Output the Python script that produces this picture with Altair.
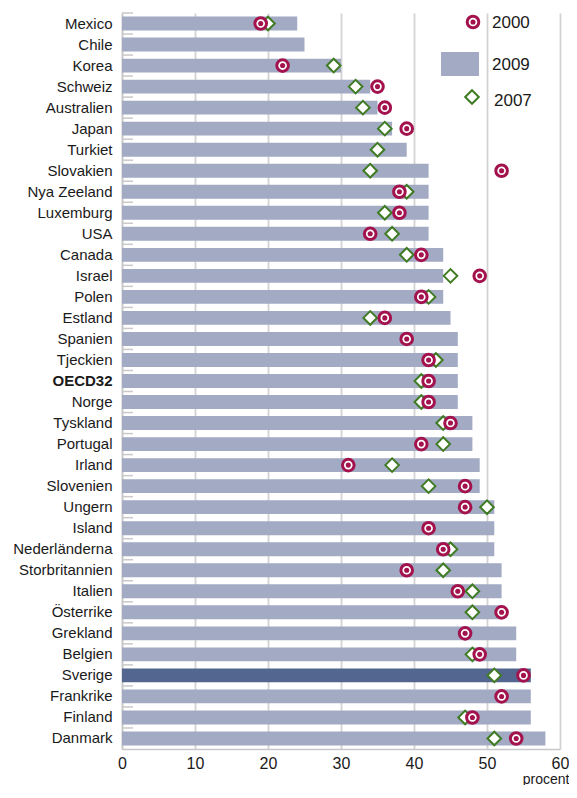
import altair as alt
import pandas as pd

countries = ["Mexico", "Chile", "Korea", "Schweiz", "Australien", "Japan", "Turkiet",
             "Slovakien", "Nya Zeeland", "Luxemburg", "USA", "Canada", "Israel", "Polen",
             "Estland", "Spanien", "Tjeckien", "OECD32", "Norge", "Tyskland", "Portugal",
             "Irland", "Slovenien", "Ungern", "Island", "Nederländerna", "Storbritannien",
             "Italien", "Österrike", "Grekland", "Belgien", "Sverige", "Frankrike",
             "Finland", "Danmark"]
v2009 = [24, 25, 30, 34, 35, 37, 39, 42, 42, 42, 42, 44, 44, 44, 45, 46, 46, 46, 46, 48,
         48, 49, 49, 51, 51, 51, 52, 52, 52, 54, 54, 56, 56, 56, 58]
v2000 = [19, None, 22, 35, 36, 39, None, 52, 38, 38, 34, 41, 49, 41, 36, 39, 42, 42, 42,
         45, 41, 31, 47, 47, 42, 44, 39, 46, 52, 47, 49, 55, 52, 48, 54]
v2007 = [20, None, 29, 32, 33, 36, 35, 34, 39, 36, 37, 39, 45, 42, 34, None, 43, 41, 41,
         44, 44, 37, 42, 50, None, 45, 44, 48, 48, None, 48, 51, None, 47, 51]
highlight = ["Sverige"]
x_ticks = [0, 10, 20, 30, 40, 50, 60]
legend_labels = ["2000", "2009", "2007"]

df = pd.DataFrame({"land": countries, "v2009": v2009, "v2000": v2000, "v2007": v2007})
df["hl"] = df["land"].isin(highlight)

W, H = 438, 736
N = len(countries)
STEP = H / N
PIN = 0.34

BAR = "#a2aac4"
BAR_HL = "#536690"
RED = "#a3124d"
GREEN = "#3f7b22"
GRID = "#d3d3d3"
FONT = "Liberation Sans"
RING = 135
DOT = 26
DIA = 185

yscale = alt.Scale(domain=countries, paddingInner=PIN, paddingOuter=PIN / 2)
yaxis = alt.Axis(title=None, ticks=False, domain=True, domainColor="#c8c8c8",
                 domainWidth=1.5, labelPadding=10, labelFontSize=15,
                 labelFont=FONT, labelColor="#1a1a1a", labelLimit=200,
                 labelFontWeight={"condition": {"test": "datum.value == 'OECD32'",
                                                "value": 900},
                                  "value": "normal"})
xscale = alt.Scale(domain=[0, 60], nice=False)
xaxis = alt.Axis(values=x_ticks, grid=True, gridColor=GRID, gridWidth=1.8, ticks=False,
                 labelFlush=False, labelBound=False,
                 domainColor="#c8c8c8", domainWidth=1.5, labelFontSize=16, labelFont=FONT,
                 labelColor="#1a1a1a", labelPadding=6, title="procent", titleFont=FONT,
                 titleFontSize=14, titleFontWeight="normal", titleColor="#1a1a1a",
                 titleAlign="right", titleX=W + 9, titleY=34, titleBaseline="alphabetic")


def Y(**kw):
    return alt.Y("land:N", sort=countries, scale=yscale, axis=yaxis, **kw)


base = alt.Chart(df)

bars = base.mark_bar(size=STEP * (1 - PIN)).encode(
    y=Y(),
    x=alt.X("v2009:Q", scale=xscale, axis=xaxis),
    color=alt.condition("datum.hl", alt.value(BAR_HL), alt.value(BAR)),
)

# short inner ticks at the boundary above every band
inner_ticks = base.mark_rule(color="#c9c9c9", strokeWidth=1.5,
                             yOffset=-PIN * STEP / 2).encode(
    y=Y(bandPosition=0),
    x=alt.value(0), x2=alt.value(11),
)

diamonds = base.transform_filter("isValid(datum.v2007)").mark_point(
    shape="diamond", filled=True, fill="white", stroke=GREEN, strokeWidth=2, size=DIA,
    opacity=1,
).encode(y=Y(), x=alt.X("v2007:Q", scale=xscale, axis=xaxis))

rings = base.transform_filter("isValid(datum.v2000)").mark_point(
    shape="circle", filled=True, fill="white", stroke=RED, strokeWidth=3, size=RING,
    opacity=1,
).encode(y=Y(), x=alt.X("v2000:Q", scale=xscale, axis=xaxis))

dots = base.transform_filter("isValid(datum.v2000)").mark_point(
    shape="circle", filled=True, color=RED, size=DOT, opacity=1,
).encode(y=Y(), x=alt.X("v2000:Q", scale=xscale, axis=xaxis))

# legend (pixel placement inside the plot area)
leg = alt.Chart(pd.DataFrame({"lab": legend_labels}))


def pick(lab):
    return leg.transform_filter(alt.datum.lab == lab)


leg_ring = pick("2000").mark_point(
    shape="circle", filled=True, fill="white", stroke=RED, strokeWidth=3, size=RING, opacity=1
).encode(x=alt.value(351), y=alt.value(9))
leg_dot = pick("2000").mark_point(
    shape="circle", filled=True, color=RED, size=DOT, opacity=1
).encode(x=alt.value(351), y=alt.value(9))
leg_rect = pick("2009").mark_rect(color=BAR).encode(
    x=alt.value(319), x2=alt.value(357), y=alt.value(39), y2=alt.value(63))
leg_dia = pick("2007").mark_point(
    shape="diamond", filled=True, fill="white", stroke=GREEN, strokeWidth=2, size=DIA, opacity=1
).encode(x=alt.value(350), y=alt.value(84))

txt_kw = dict(align="left", baseline="middle", font=FONT, fontSize=17, color="#1a1a1a")
leg_t1 = pick("2000").mark_text(**txt_kw).encode(text="lab:N", x=alt.value(370), y=alt.value(10))
leg_t2 = pick("2009").mark_text(**txt_kw).encode(text="lab:N", x=alt.value(370), y=alt.value(52))
leg_t3 = pick("2007").mark_text(**txt_kw).encode(text="lab:N", x=alt.value(372), y=alt.value(88))

chart = alt.layer(
    bars, inner_ticks, diamonds, rings, dots,
    leg_ring, leg_dot, leg_rect, leg_dia, leg_t1, leg_t2, leg_t3,
).properties(
    width=W, height=H,
    autosize=alt.AutoSizeParams(type="none"),
    padding={"left": 114, "top": 5, "right": 9, "bottom": 36},
).configure_view(stroke=None)

chart.save("out.html", embed_options={"renderer": "svg", "actions": False})
